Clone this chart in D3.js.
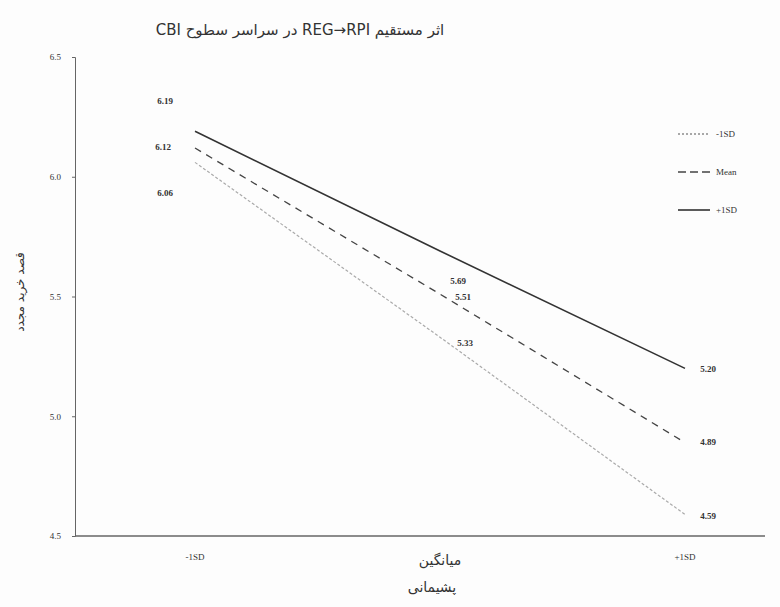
<!DOCTYPE html>
<head>
    <meta charset="utf-8">
    <script src="https://d3js.org/d3.v7.min.js"></script>
    <style>
      body { margin: 0; background: #fdfdfd; }
      text { font-family: "Liberation Serif", serif; fill: #333; }
      .tick text { font-size: 9px; }
      .vlabel { font-size: 9px; font-weight: bold; }
      .persian { font-family: "DejaVu Sans", "Noto Sans", sans-serif; }
    </style>
</head>
<body>
    <script>
        // data
        var levels = ["-1SD", "میانگین", "+1SD"]
        var seriesNames = ["-1SD", "Mean", "+1SD"]
        var lowCBI = [6.06, 5.33, 4.59]
        var meanCBI = [6.12, 5.51, 4.89]
        var highCBI = [6.19, 5.69, 5.20]
        var yTicks = [4.5, 5.0, 5.5, 6.0, 6.5]

        var svg_w = 780, svg_h = 607
        var svg = d3.select("body").append("svg")
          .attr("width", svg_w)
          .attr("height", svg_h)

        var x = d3.scalePoint().domain(levels).range([195, 685])
        var y = d3.scaleLinear().domain([4.5, 6.5]).range([536, 57])

        // y axis
        var yAxis = svg.append("g")
          .attr("transform", "translate(75,0)")
          .call(d3.axisLeft(y).tickValues(yTicks).tickFormat(d3.format(".1f")).tickSize(3))
        yAxis.select(".domain").attr("stroke", "#666")
        yAxis.selectAll(".tick line").attr("stroke", "#666")
        yAxis.selectAll(".tick text").attr("x", -14)

        // x axis line
        svg.append("line")
          .attr("x1", 75).attr("x2", 765)
          .attr("y1", y(4.5)).attr("y2", y(4.5))
          .attr("stroke", "#666").attr("stroke-width", 1.5)

        svg.selectAll(".xlab").data(levels).enter().append("text")
          .attr("x", function(d){ return x(d) })
          .attr("y", function(d, i){ return i == 1 ? 565 : 560 })
          .attr("text-anchor", "middle")
          .attr("font-size", function(d, i){ return i == 1 ? "14px" : "9px" })
          .attr("class", function(d, i){ return i == 1 ? "persian" : "" })
          .text(function(d){ return d })

        // titles
        svg.append("text")
          .attr("x", 300).attr("y", 35)
          .attr("text-anchor", "middle")
          .attr("direction", "rtl")
          .attr("font-size", "15px")
          .attr("class", "persian")
          .text("اثر مستقیم REG→RPI در سراسر سطوح CBI")

        svg.append("text")
          .attr("x", 432).attr("y", 592)
          .attr("text-anchor", "middle")
          .attr("font-size", "14px")
          .attr("class", "persian")
          .text("پشیمانی")

        svg.append("text")
          .attr("transform", "translate(24,292) rotate(-90)")
          .attr("text-anchor", "middle")
          .attr("font-size", "12px")
          .attr("class", "persian")
          .text("قصد خرید مجدد")

        // lines
        var series = [
          {name: seriesNames[0], values: lowCBI, color: "#aaa", dash: "3,2", width: 1.2, lab: [[165,193],[465,343],[708,516]]},
          {name: seriesNames[1], values: meanCBI, color: "#444", dash: "7,6", width: 1.3, lab: [[163,147],[463,297],[708,442]]},
          {name: seriesNames[2], values: highCBI, color: "#333", dash: null, width: 1.6, lab: [[165,101],[458,281],[708,369]]}
        ]
        var line = d3.line()
          .x(function(d, i){ return x(levels[i]) })
          .y(function(d){ return y(d) })

        series.forEach(function(s){
          svg.append("path")
            .attr("d", line(s.values))
            .attr("fill", "none")
            .attr("stroke", s.color)
            .attr("stroke-width", s.width)
            .attr("stroke-dasharray", s.dash)
          svg.selectAll(null).data(s.values).enter().append("text")
            .attr("class", "vlabel")
            .attr("x", function(d, i){ return s.lab[i][0] })
            .attr("y", function(d, i){ return s.lab[i][1] + 3 })
            .attr("text-anchor", "middle")
            .text(function(d){ return d3.format(".2f")(d) })
        })

        // legend
        var legend = svg.append("g").attr("transform", "translate(678,134)")
        series.forEach(function(s, i){
          var g = legend.append("g").attr("transform", "translate(0," + (i * 38) + ")")
          g.append("line")
            .attr("x1", 0).attr("x2", 32)
            .attr("stroke", i == 0 ? "#555" : s.color)
            .attr("stroke-width", s.width)
            .attr("stroke-dasharray", i == 0 ? "2,2" : (i == 1 ? "8,4" : null))
          g.append("text")
            .attr("x", 38).attr("y", 3)
            .attr("font-size", "9px")
            .text(s.name)
        })
    </script>
</body>
